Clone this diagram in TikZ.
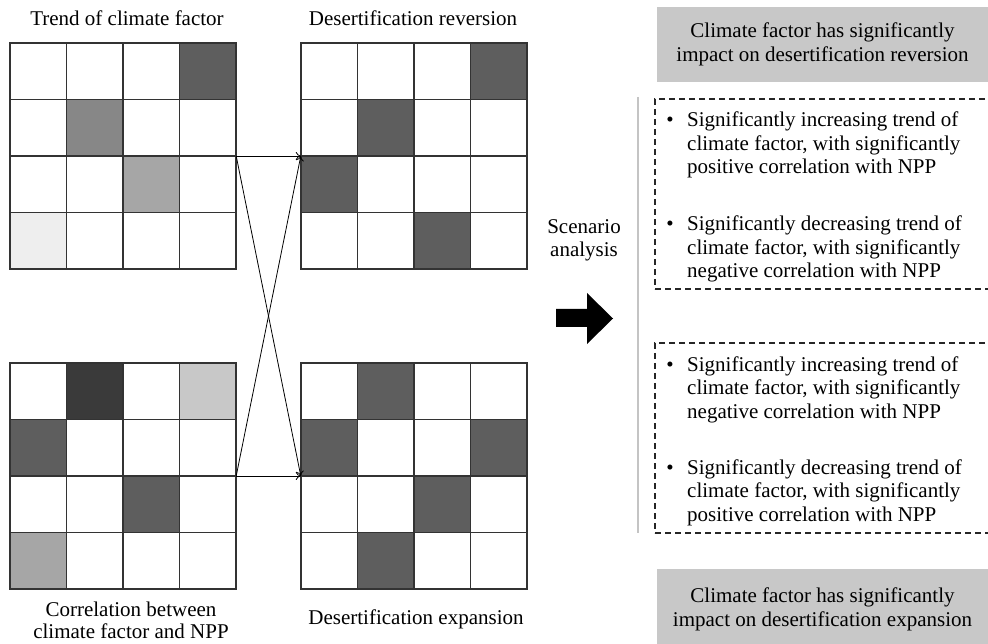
\documentclass[tikz,border=0pt]{standalone}
\usepackage{fontspec}
\setmainfont{Liberation Serif}
\usetikzlibrary{arrows.meta}
\definecolor{cdark}{HTML}{5E5E5E}
\definecolor{cdarker}{HTML}{3A3A3A}
\definecolor{cmid}{HTML}{878787}
\definecolor{clight}{HTML}{A6A6A6}
\definecolor{cpale}{HTML}{C8C8C8}
\definecolor{cvpale}{HTML}{EEEEEE}
\definecolor{gboxc}{HTML}{C8C8C8}
\definecolor{vlinec}{HTML}{C4C4C4}
\newcommand\mycell[3]{\fill[#3] ({(#2-1)*56.5},{(#1-1)*56.5}) rectangle ++(56.5,56.5);}
\newcommand\mygridlines{\foreach \k in {0,1,2,3,4}{\draw[gridline] (\k*56.5,0) -- (\k*56.5,226); \draw[gridline] (0,\k*56.5) -- (226,\k*56.5);}}
\begin{document}
\begin{tikzpicture}[x=1pt,y=-1pt,
  txt/.style={inner sep=0pt, font=\fontsize{21}{24}\selectfont},
  gridline/.style={draw=black!80, line width=1.1pt, line cap=rect},
  gridframe/.style={minimum width=226pt, minimum height=226pt, inner sep=0pt, draw=none},
  conn/.style={line width=0.8pt, -{To[length=5pt,width=8pt]}},
  graybox/.style={fill=gboxc, minimum width=331pt, minimum height=75pt, inner sep=0pt},
  dashbox/.style={draw=black!85, line width=1.1pt, dash pattern=on 6pt off 4pt, minimum width=340pt, minimum height=190pt, inner sep=0pt},
  bul/.style={inner sep=0pt, font=\fontsize{21}{24}\selectfont, anchor=base}
]
\useasboundingbox (0,0) rectangle (988,644);
\clip (0,0) rectangle (988,644);

% ---- grids ----
\begin{scope}[shift={(10,43)}]
  \mycell{1}{4}{cdark}\mycell{2}{2}{cmid}\mycell{3}{3}{clight}\mycell{4}{1}{cvpale}
  \mygridlines
\end{scope}
\begin{scope}[shift={(301,43)}]
  \mycell{1}{4}{cdark}\mycell{2}{2}{cdark}\mycell{3}{1}{cdark}\mycell{4}{3}{cdark}
  \mygridlines
\end{scope}
\begin{scope}[shift={(10,363)}]
  \mycell{1}{2}{cdarker}\mycell{1}{4}{cpale}\mycell{2}{1}{cdark}\mycell{3}{3}{cdark}\mycell{4}{1}{clight}
  \mygridlines
\end{scope}
\begin{scope}[shift={(301,363)}]
  \mycell{1}{2}{cdark}\mycell{2}{1}{cdark}\mycell{2}{4}{cdark}\mycell{3}{3}{cdark}\mycell{4}{2}{cdark}
  \mygridlines
\end{scope}
\node[gridframe] (tl) at (123,156) {};
\node[gridframe] (tr) at (414,156) {};
\node[gridframe] (bl) at (123,476) {};
\node[gridframe] (br) at (414,476) {};

% ---- connectors ----
\draw[conn] (tl.east) -- (tr.west);
\draw[conn] (tl.east) -- (br.west);
\draw[conn] (bl.east) -- (br.west);
\draw[conn] (bl.east) -- (tr.west);

% ---- grid labels ----
\node[txt, anchor=base] (ttl) at (127,26) {Trend of climate factor};
\node[txt, anchor=base] (ttr) at (413,25.5) {Desertification reversion};
\node[txt, anchor=base] (tbl) at (131,616) {\parbox[t]{260pt}{\centering\baselineskip=22pt Correlation between\\climate factor and NPP}};
\node[txt, anchor=base] (tbr) at (416,624) {Desertification expansion};

% ---- scenario ----
\node[txt, anchor=base] (sc1) at (584,234) {Scenario};
\node[txt, anchor=base] (sc2) at (584,257) {analysis};
\fill (556,309) -- (587,309) -- (587,293) -- (613,318.5) -- (587,344) -- (587,327) -- (556,327) -- cycle;
\draw[vlinec, line width=2pt] (638,97) -- (638,533);

% ---- gray boxes ----
\node[graybox] (gtop) at (822.5,44.5) {};
\node[txt, anchor=base] (gtopt) at (822.5,38) {\parbox[t]{331pt}{\centering\baselineskip=24pt Climate factor has significantly\\impact on desertification reversion}};
\node[graybox] (gbot) at (822.5,606) {};
\node[txt, anchor=base] (gbott) at (822.5,602) {\parbox[t]{331pt}{\centering\baselineskip=24pt Climate factor has significantly\\impact on desertification expansion}};

% ---- dashed boxes ----
\node[dashbox] (dup) at (825,194) {};
\node[dashbox] (dlo) at (825,438) {};

\node[bul] (u1b) at (670,127) {•};
\node[txt, anchor=base west] (u1) at (687,127) {\parbox[t]{300pt}{\raggedright\baselineskip=23.5pt Significantly increasing trend of\\climate factor, with significantly\\positive correlation with NPP}};
\node[bul] (u2b) at (670,231) {•};
\node[txt, anchor=base west] (u2) at (687,231) {\parbox[t]{300pt}{\raggedright\baselineskip=23.5pt Significantly decreasing trend of\\climate factor, with significantly\\negative correlation with NPP}};
\node[bul] (l1b) at (670,371) {•};
\node[txt, anchor=base west] (l1) at (687,371) {\parbox[t]{300pt}{\raggedright\baselineskip=23.5pt Significantly increasing trend of\\climate factor, with significantly\\negative correlation with NPP}};
\node[bul] (l2b) at (670,474) {•};
\node[txt, anchor=base west] (l2) at (687,474) {\parbox[t]{300pt}{\raggedright\baselineskip=23.5pt Significantly decreasing trend of\\climate factor, with significantly\\positive correlation with NPP}};
\end{tikzpicture}
\end{document}
